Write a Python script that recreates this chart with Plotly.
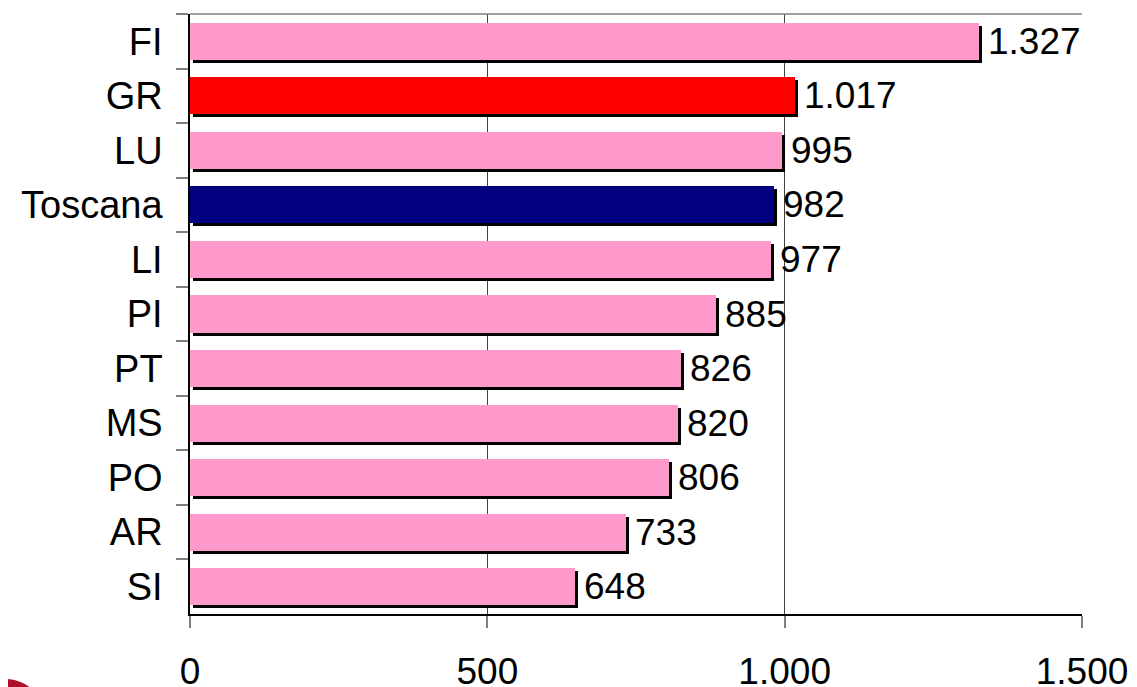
import plotly.graph_objects as go

categories = ["FI", "GR", "LU", "Toscana", "LI", "PI", "PT", "MS", "PO", "AR", "SI"]
values = [1327, 1017, 995, 982, 977, 885, 826, 820, 806, 733, 648]
bar_colors = ["#FF99CC", "#FF0000", "#FF99CC", "#000080", "#FF99CC", "#FF99CC",
              "#FF99CC", "#FF99CC", "#FF99CC", "#FF99CC", "#FF99CC"]
x_ticks = [0, 500, 1000, 1500]
x_ticklabels = ["0", "500", "1.000", "1.500"]

FONT = "Arial, Liberation Sans, sans-serif"
W = 0.68
shadow_shift_units = 5      # horizontal shadow offset, x-axis units (~3px)
shadow_shift_cat = 0.055    # vertical shadow offset, category units (~3px)

fig = go.Figure()
# shadow
fig.add_trace(go.Bar(
    y=categories, x=values, base=shadow_shift_units, orientation="h",
    width=W, offset=-W / 2 + shadow_shift_cat,
    marker=dict(color="#000000", line=dict(width=0)),
    hoverinfo="skip", showlegend=False,
))
# main bars
fig.add_trace(go.Bar(
    y=categories, x=values, orientation="h",
    width=W, offset=-W / 2,
    marker=dict(color=bar_colors, line=dict(width=0)),
    showlegend=False,
))

def fmt(v):
    return f"{v:,}".replace(",", ".")

for c, v in zip(categories, values):
    fig.add_annotation(x=v, y=c, xref="x", yref="y", text=fmt(v),
                       showarrow=False, xanchor="left", yanchor="middle",
                       xshift=7, font=dict(family=FONT, size=37, color="#000000"))

shapes = [
    dict(type="line", xref="paper", yref="paper", x0=0, x1=1, y0=1, y1=1,
         line=dict(color="#808080", width=1.5)),
    dict(type="circle", xref="paper", yref="paper",
         x0=-0.2534, x1=-0.1614, y0=-0.245, y1=-0.1083,
         fillcolor="#B0102B", line=dict(width=0), layer="above"),
]

fig.update_layout(
    width=1129, height=679,
    margin=dict(l=182, r=55, t=6, b=73),
    paper_bgcolor="white", plot_bgcolor="white",
    barmode="overlay",
    bargap=0,
    font=dict(family=FONT, size=37, color="#000000"),
    shapes=shapes,
    xaxis=dict(
        range=[0, 1500], tickvals=x_ticks, ticktext=x_ticklabels,
        showgrid=True, gridcolor="#404040", gridwidth=1,
        zeroline=False, showline=True, linecolor="#000000", linewidth=1.5,
        ticks="outside", ticklen=12, tickcolor="#808080", tickwidth=1.5,
        ticklabelstandoff=12, automargin=False,
        tickfont=dict(family=FONT, size=37, color="#000000"),
    ),
    yaxis=dict(
        type="category", categoryorder="array", categoryarray=categories,
        range=[len(categories) - 0.5, -0.5],
        tickson="boundaries", ticks="outside", ticklen=12,
        tickcolor="#808080", tickwidth=1.5,
        showline=True, linecolor="#000000", linewidth=1.5,
        showgrid=False, zeroline=False,
        ticklabelstandoff=18, automargin=False,
        tickfont=dict(family=FONT, size=38, color="#000000"),
    ),
)

fig.write_html("out.html")
